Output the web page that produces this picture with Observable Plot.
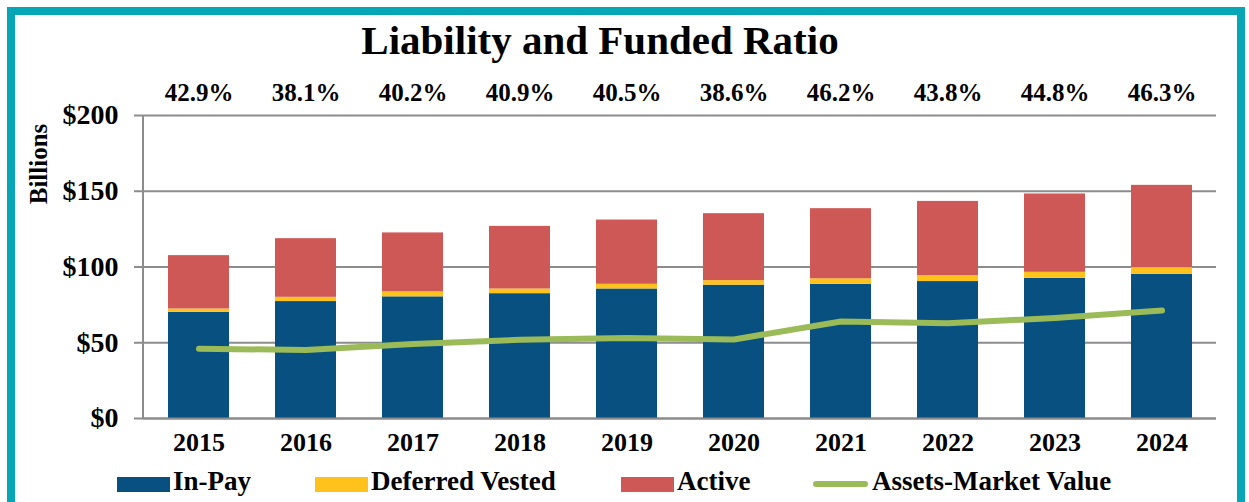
<!DOCTYPE html>
<html><head><meta charset="utf-8">
<script src="https://cdn.jsdelivr.net/npm/d3@7"></script>
<script src="https://cdn.jsdelivr.net/npm/@observablehq/plot@0.6"></script>
<style>
html,body{margin:0;padding:0;background:#fff;}
body{width:1249px;height:502px;overflow:hidden;position:relative;font-family:"Liberation Serif","Times New Roman",serif;font-weight:bold;color:#000;}
#frame{position:absolute;left:7px;top:7px;width:1238px;height:560px;border:8px solid #06a6b6;box-sizing:border-box;}
#title{position:absolute;left:0;top:20px;width:1200px;text-align:center;font-size:41px;line-height:1;}
#ylab{position:absolute;left:38px;top:164px;font-size:25px;line-height:1;transform:translate(-50%,-50%) rotate(-90deg);white-space:nowrap;}
#chart{position:absolute;left:0;top:60px;}
.lg{position:absolute;font-size:27px;line-height:1;top:468px;white-space:nowrap;}
.sw{position:absolute;}
</style></head>
<body>
<div id="frame"></div>
<div id="title">Liability and Funded Ratio</div>
<div id="ylab">Billions</div>
<div id="chart"></div>
<div id="legend"></div>
<script>
const years = ["2015","2016","2017","2018","2019","2020","2021","2022","2023","2024"];
const inPay    = [70.0, 77.2, 80.3, 82.4, 85.5, 88.0, 88.6, 90.4, 92.5, 95.2];
const deferred = [2.3, 2.8, 3.3, 3.1, 3.1, 3.0, 3.6, 3.9, 4.0, 4.4];
const active   = [35.2, 38.7, 38.9, 41.3, 42.4, 44.2, 46.3, 49.0, 51.7, 54.3];
const assets   = [46.1, 45.2, 49.2, 51.9, 53.1, 52.2, 64.0, 62.8, 66.4, 71.3];
const fundedRatio = ["42.9%","38.1%","40.2%","40.9%","40.5%","38.6%","46.2%","43.8%","44.8%","46.3%"];
const seriesNames = ["In-Pay","Deferred Vested","Active"];
const seriesColors = ["#07507f","#ffc21c","#cd5855"];
const lineName = "Assets-Market Value";
const lineColor = "#9bbb59";
const yTicks = [0,50,100,150,200];

const seriesValues = [inPay, deferred, active];
const rows = [];
years.forEach((yr,i)=>seriesNames.forEach((s,j)=>rows.push({year:yr, series:s, value:seriesValues[j][i]})));
const lineRows = years.map((yr,i)=>({year:yr, value:assets[i]}));
const ratioRows = years.map((yr,i)=>({year:yr, label:fundedRatio[i]}));

const font = "'Liberation Serif','Times New Roman',serif";
const gray = "#8c8c8c";

const leftAxisLine = (index, scales, values, dim) => {
  const l = document.createElementNS("http://www.w3.org/2000/svg","line");
  l.setAttribute("x1", dim.marginLeft); l.setAttribute("x2", dim.marginLeft);
  l.setAttribute("y1", scales.y(200)); l.setAttribute("y2", scales.y(0));
  l.setAttribute("stroke", gray); l.setAttribute("stroke-width", 2);
  return l;
};

const chart = Plot.plot({
  width: 1249,
  height: 403,
  marginTop: 55,
  marginBottom: 45,
  marginLeft: 143,
  marginRight: 33,
  style: {fontFamily: font, fontWeight: "bold", background: "transparent", overflow: "visible"},
  x: {type: "band", domain: years, paddingInner: 0.43, paddingOuter: 0.215, align: 0.5, label: null},
  y: {domain: [0,200], label: null},
  color: {domain: seriesNames, range: seriesColors},
  marks: [
    Plot.gridY(yTicks, {stroke: gray, strokeOpacity: 1, strokeWidth: 2}),
    Plot.axisY(yTicks, {tickSize: 9, tickPadding: 16, tickFormat: d => "$" + d, fontSize: 28, stroke: gray, strokeWidth: 2, label: null}),
    Plot.barY(rows, Plot.stackY({order: seriesNames, x: "year", y: "value", fill: "series"})),
    leftAxisLine,
    Plot.ruleY([0], {stroke: gray, strokeWidth: 2}),
    Plot.line(lineRows, {x: "year", y: "value", stroke: lineColor, strokeWidth: 6, strokeLinecap: "round", strokeLinejoin: "round"}),
    Plot.axisX({tickSize: 0, tickPadding: 14, fontSize: 26, label: null}),
    Plot.text(ratioRows, {x: "year", text: "label", frameAnchor: "top", lineAnchor: "bottom", dy: -15, fontSize: 25, fontWeight: "bold", fill: "#000"})
  ]
});
document.getElementById("chart").appendChild(chart);

// legend
const legend = document.getElementById("legend");
const items = [
  {name: seriesNames[0], color: seriesColors[0], type: "rect", x: 117},
  {name: seriesNames[1], color: seriesColors[1], type: "rect", x: 315},
  {name: seriesNames[2], color: seriesColors[2], type: "rect", x: 621},
  {name: lineName, color: lineColor, type: "line", x: 813}
];
items.forEach(it => {
  const sw = document.createElement("div");
  sw.className = "sw";
  if (it.type === "rect") {
    Object.assign(sw.style, {left: it.x + "px", top: "477px", width: "53px", height: "15px", background: it.color});
  } else {
    Object.assign(sw.style, {left: it.x + "px", top: "481px", width: "55px", height: "6px", background: it.color, borderRadius: "3px"});
  }
  legend.appendChild(sw);
  const t = document.createElement("div");
  t.className = "lg";
  t.style.left = (it.x + (it.type === "rect" ? 56 : 59)) + "px";
  t.textContent = it.name;
  legend.appendChild(t);
});
</script>
</body></html>
